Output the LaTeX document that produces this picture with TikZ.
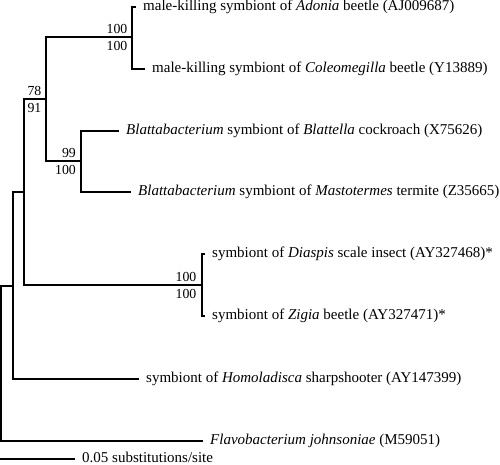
\documentclass[tikz,border=0pt]{standalone}
\usepackage{fontspec}
\setmainfont{Liberation Serif}
\begin{document}
\begin{tikzpicture}[x=1pt,y=-1pt,
  branch/.style={line width=2pt, line join=miter},
  leaf/.style={anchor=west, inner xsep=7pt, inner ysep=0pt, text height=0.66em, text depth=0pt, font=\fontsize{15}{18}\selectfont},
  boot/.style={inner sep=0pt, font=\fontsize{13.8}{16}\selectfont},
  bootup/.style={boot, anchor=south east},
  bootdn/.style={boot, anchor=north east}]
\useasboundingbox (0,0) rectangle (500,465);
% internal nodes
\coordinate (A) at (132,37.5);
\coordinate (C) at (81,161);
\coordinate (B) at (46,99);
\coordinate (F) at (202,285);
\coordinate (D) at (24,192);
\coordinate (E) at (13,286);
\coordinate (R) at (1,286);
% leaves
\node[leaf] (l1) at (136,7) {male-killing symbiont of \textit{Adonia} beetle (AJ009687)};
\node[leaf] (l2) at (145,69) {male-killing symbiont of \textit{Coleomegilla} beetle (Y13889)};
\node[leaf] (l3) at (119,131) {\textit{Blattabacterium} symbiont of \textit{Blattella} cockroach (X75626)};
\node[leaf] (l4) at (131,192) {\textit{Blattabacterium} symbiont of \textit{Mastotermes} termite (Z35665)};
\node[leaf] (l5) at (205,254) {symbiont of \textit{Diaspis} scale insect (AY327468)*};
\node[leaf] (l6) at (205,316) {symbiont of \textit{Zigia} beetle (AY327471)*};
\node[leaf] (l7) at (139,379) {symbiont of \textit{Homoladisca} sharpshooter (AY147399)};
\node[leaf] (l8) at (203,441) {\textit{Flavobacterium johnsoniae} (M59051)};
% tree
\draw[branch] (l1.west) -| (A) |- (l2.west);
\draw[branch] (l3.west) -| (C) |- (l4.west);
\draw[branch] (A) -| (B) |- (C);
\draw[branch] (l5.west) -| (F) |- (l6.west);
\draw[branch] (B) -| (D) |- (F);
\draw[branch] (D) -| (E) |- (l7.west);
\draw[branch] (E) -- (R) |- (l8.west);
% bootstrap values
\node[bootup] (bAu) at (127.5,34) {100};
\node[bootdn] (bAd) at (127.5,41) {100};
\node[bootup] (bCu) at (76,158) {99};
\node[bootdn] (bCd) at (76,165) {100};
\node[bootup] (bBu) at (41.5,96) {78};
\node[bootdn] (bBd) at (41.5,103) {91};
\node[bootup] (bFu) at (196.5,282) {100};
\node[bootdn] (bFd) at (196.5,289) {100};
% scale bar
\coordinate (s0) at (0,459);
\node[leaf] (sc) at (75,459) {0.05 substitutions/site};
\draw[branch] (s0) -- (sc.west);
\end{tikzpicture}
\end{document}
